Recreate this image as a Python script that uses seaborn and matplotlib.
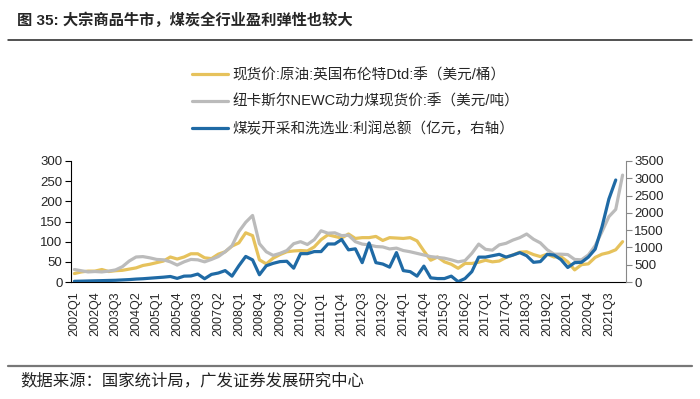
import numpy as np
import matplotlib
matplotlib.use("Agg")
import matplotlib.pyplot as plt
from matplotlib.ticker import FixedLocator, MultipleLocator
import seaborn as sns

sns.set_style("white")
plt.rcParams['font.family'] = ['Liberation Sans', 'Noto Sans CJK SC']
plt.rcParams['axes.unicode_minus'] = False

# quarters 2002Q1 .. 2022Q1
quarters = [f"{y}Q{q}" for y in range(2002, 2023) for q in range(1, 5)][:81]

# Brent spot, USD/bbl
brent = [21, 25, 27, 27, 31, 26, 28, 29, 32, 35, 41, 44, 48, 52, 62, 57,
         62, 70, 70, 60, 58, 69, 75, 89, 97, 122, 115, 55, 45, 59, 68, 75,
         77, 78, 77, 87, 105, 117, 113, 109, 119, 108, 110, 110, 113, 103, 110, 109,
         108, 110, 102, 77, 54, 62, 50, 44, 34, 46, 46, 49, 54, 50, 52, 61,
         67, 74, 75, 68, 63, 69, 62, 63, 50, 30, 43, 45, 61, 69, 73, 80, 100]

# Newcastle NEWC thermal coal, USD/t
newc = [31, 28, 25, 26, 25, 27, 30, 38, 52, 62, 63, 60, 56, 55, 50, 42,
        50, 56, 55, 50, 56, 63, 75, 90, 125, 148, 165, 95, 75, 66, 71, 78,
        95, 100, 93, 105, 127, 121, 122, 115, 116, 100, 94, 92, 88, 87, 82, 84,
        78, 75, 71, 67, 63, 61, 59, 55, 50, 53, 71, 94, 81, 79, 92, 96,
        104, 110, 119, 106, 97, 80, 69, 69, 68, 56, 55, 67, 90, 125, 162, 180, 265]

# coal mining & washing total profit, 100m CNY (right axis), to 2021Q4
profit = [20, 25, 30, 35, 40, 45, 50, 60, 70, 85, 95, 110, 125, 140, 160, 105,
          170, 175, 230, 95, 220, 260, 330, 170, 470, 740, 640, 210, 470, 540, 590, 600,
          400, 820, 820, 880, 880, 1100, 1100, 1230, 930, 960, 560, 1130, 560, 520, 430, 850,
          330, 300, 170, 460, 120, 100, 100, 170, 10, 100, 300, 720, 720, 760, 800, 720,
          780, 850, 760, 570, 590, 800, 780, 650, 420, 560, 570, 720, 950, 1600, 2400, 2950]

labels = ["现货价:原油:英国布伦特Dtd:季（美元/桶）",
          "纽卡斯尔NEWC动力煤现货价:季（美元/吨）",
          "煤炭开采和洗选业:利润总额（亿元，右轴）"]
colors = ["#E6C25C", "#BBBBBB", "#1F6AA5"]

pos = np.arange(len(quarters))

fig = plt.figure(figsize=(7, 3.99), dpi=100)
ax = fig.add_axes([0.1014, 0.2932, 0.7929, 0.3033])
ax2 = ax.twinx()

sns.lineplot(x=pos, y=brent, ax=ax, color=colors[0], linewidth=2.3, label=labels[0], legend=False)
sns.lineplot(x=pos, y=newc, ax=ax, color=colors[1], linewidth=2.3, label=labels[1], legend=False)
sns.lineplot(x=pos[:len(profit)], y=profit, ax=ax2, color=colors[2], linewidth=2.3,
             label=labels[2], legend=False)

ax.set_xlim(-0.5, len(quarters) - 0.5)
ax.set_ylim(0, 300)
ax2.set_ylim(0, 3500)
ax.yaxis.set_major_locator(MultipleLocator(50))
ax2.yaxis.set_major_locator(MultipleLocator(500))

ax.xaxis.set_major_locator(FixedLocator(pos[::3]))
ax.set_xticklabels(quarters[::3], rotation=90, fontsize=9)
ax.xaxis.set_minor_locator(FixedLocator(np.arange(-0.5, len(quarters), 1)))
ax.tick_params(axis='x', which='major', length=0, pad=7)
ax.tick_params(axis='x', which='minor', length=4, width=0.8, color='black', direction='out')
ax.tick_params(axis='y', length=4, width=0.8, color='black', direction='out', labelsize=9.5, pad=2)
ax2.tick_params(axis='y', length=4, width=0.8, color='#888888', direction='out', labelsize=9.5, pad=2)
ax.set_xlabel("")
ax.set_ylabel("")
ax2.set_ylabel("")
ax.grid(False)
ax2.grid(False)

for a in (ax, ax2):
    a.spines['top'].set_visible(False)
ax.spines['left'].set_color('black')
ax.spines['bottom'].set_color('black')
ax.spines['right'].set_visible(False)
ax2.spines['left'].set_visible(False)
ax2.spines['bottom'].set_visible(False)
ax2.spines['right'].set_color('#888888')

handles = ax.get_lines()[:2] + ax2.get_lines()[:1]
fig.legend(handles, labels, loc='upper left', bbox_to_anchor=(0.274, 0.83),
           frameon=False, fontsize=10.5, handlelength=2.45, handletextpad=0.35,
           labelspacing=0.85, borderpad=0, borderaxespad=0)

fig.text(0.024, 0.95, "图 35: 大宗商品牛市，煤炭全行业盈利弹性也较大",
         fontsize=11, fontweight='bold', va='center', ha='left')
fig.add_artist(plt.Line2D([0.011, 0.989], [0.901, 0.901], color='#222222', linewidth=1.1))
fig.add_artist(plt.Line2D([0.011, 0.989], [0.083, 0.083], color='#777777', linewidth=1.6))
fig.text(0.029, 0.046, "数据来源：国家统计局，广发证券发展研究中心",
         fontsize=11.8, va='center', ha='left', color='#222222')

fig.savefig("out.png", dpi=100)
